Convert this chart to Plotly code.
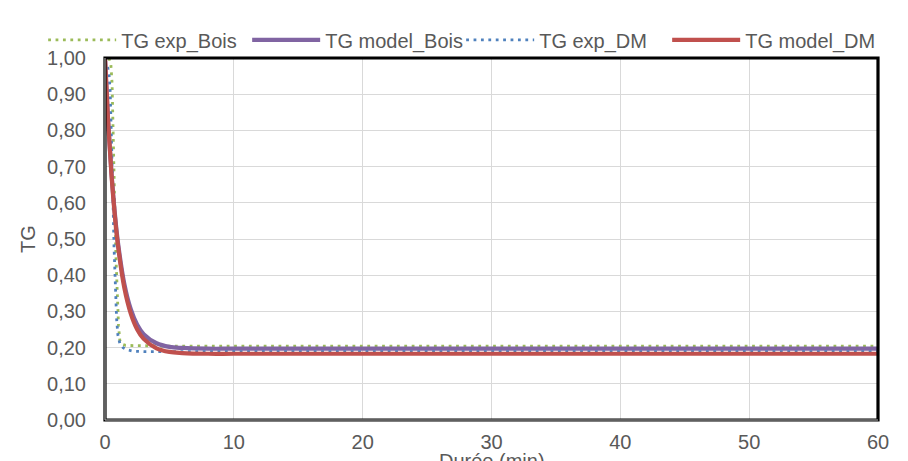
import plotly.graph_objects as go

# ---- data ----
t_exp_bois = [0.3, 0.45, 0.55, 0.65, 0.75, 0.85, 0.95, 1.05, 1.15, 1.3, 1.6, 2.5, 5, 10, 20, 30, 40, 50, 60]
tg_exp_bois = [1.0, 0.985, 0.93, 0.80, 0.60, 0.45, 0.34, 0.26, 0.22, 0.21, 0.206, 0.205, 0.204, 0.204, 0.204, 0.204, 0.204, 0.204, 0.204]

t_exp_dm = [0.2, 0.3, 0.4, 0.5, 0.6, 0.7, 0.8, 0.9, 1.0, 1.15, 1.4, 1.7, 2.2, 3, 5, 10, 20, 30, 40, 50, 60]
tg_exp_dm = [0.975, 0.96, 0.91, 0.80, 0.64, 0.48, 0.36, 0.28, 0.235, 0.212, 0.20, 0.194, 0.19, 0.189, 0.189, 0.189, 0.189, 0.189, 0.189, 0.189, 0.189]

t_model = [0, 0.25, 0.5, 0.75, 1, 1.5, 2, 2.5, 3, 4, 5, 6, 8, 10, 20, 30, 40, 50, 60]
tg_model_bois = [1.0, 0.822, 0.684, 0.576, 0.492, 0.376, 0.306, 0.263, 0.237, 0.212, 0.202, 0.199, 0.197, 0.197, 0.197, 0.197, 0.197, 0.197, 0.197]
tg_model_dm = [1.0, 0.819, 0.679, 0.569, 0.484, 0.365, 0.294, 0.250, 0.224, 0.198, 0.188, 0.185, 0.183, 0.183, 0.183, 0.183, 0.183, 0.183, 0.183]

x_ticks = [0, 10, 20, 30, 40, 50, 60]
y_ticks = [0.0, 0.1, 0.2, 0.3, 0.4, 0.5, 0.6, 0.7, 0.8, 0.9, 1.0]

GREEN = "#9BBB59"
PURPLE = "#8064A2"
BLUE = "#4F81BD"
RED = "#C0504D"
TXT = "#595959"
FONT = "Liberation Sans, Arial, sans-serif"

fig = go.Figure()
fig.add_trace(go.Scatter(x=t_exp_bois, y=tg_exp_bois, mode="lines", name="TG exp_Bois", legendwidth=121,
                         line=dict(color=GREEN, width=2.8, dash="2.8px,4.6px")))
fig.add_trace(go.Scatter(x=t_model, y=tg_model_bois, mode="lines", name="TG model_Bois", legendwidth=131,
                         line=dict(color=PURPLE, width=4.2, shape="spline")))
fig.add_trace(go.Scatter(x=t_exp_dm, y=tg_exp_dm, mode="lines", name="TG exp_DM", legendwidth=123,
                         line=dict(color=BLUE, width=2.8, dash="2.8px,4.6px")))
fig.add_trace(go.Scatter(x=t_model, y=tg_model_dm, mode="lines", name="TG model_DM", legendwidth=145,
                         line=dict(color=RED, width=4.2, shape="spline")))

fig.update_layout(
    width=908, height=461,
    margin=dict(l=97, r=38, t=43, b=49),
    paper_bgcolor="white", plot_bgcolor="white",
    separators=", ",
    font=dict(family=FONT, size=20, color=TXT),
    showlegend=True,
    legend=dict(orientation="h", x=-0.08, xanchor="left", y=1.05, yanchor="middle",
                font=dict(family=FONT, size=20, color=TXT), itemwidth=68,
                bgcolor="rgba(0,0,0,0)", tracegroupgap=0),
    xaxis=dict(range=[0, 60], tickvals=x_ticks, showgrid=True, gridcolor="#d9d9d9", gridwidth=1.3,
               zeroline=False, showline=False, ticks="", ticklabelstandoff=8,
               tickfont=dict(family=FONT, size=20, color=TXT)),
    yaxis=dict(range=[0, 1], tickvals=y_ticks, tickformat=".2f", showgrid=True, gridcolor="#d9d9d9",
               gridwidth=1.3, zeroline=False, showline=False, ticks="", ticklabelstandoff=18,
               tickfont=dict(family=FONT, size=20, color=TXT)),
    shapes=[
        dict(type="rect", xref="paper", yref="paper", x0=0, x1=1, y0=0, y1=1,
             line=dict(color="black", width=3.2), layer="above"),
        dict(type="line", xref="paper", yref="paper", x0=0, x1=1, y0=0, y1=0,
             line=dict(color="#bfbfbf", width=1), layer="above"),
        dict(type="line", xref="paper", yref="paper", x0=0, x1=0, y0=0, y1=1,
             line=dict(color="#bfbfbf", width=1), layer="above"),
    ],
    annotations=[
        dict(text="Durée (min)", xref="paper", yref="paper", x=0.5, y=0, xanchor="center",
             yanchor="middle", yshift=-41, showarrow=False, font=dict(family=FONT, size=20, color=TXT)),
        dict(text="TG", xref="paper", yref="paper", x=0, y=0.5, xanchor="center",
             yanchor="middle", xshift=-77, textangle=-90, showarrow=False,
             font=dict(family=FONT, size=20, color=TXT)),
    ],
)

fig.write_html("out.html")
